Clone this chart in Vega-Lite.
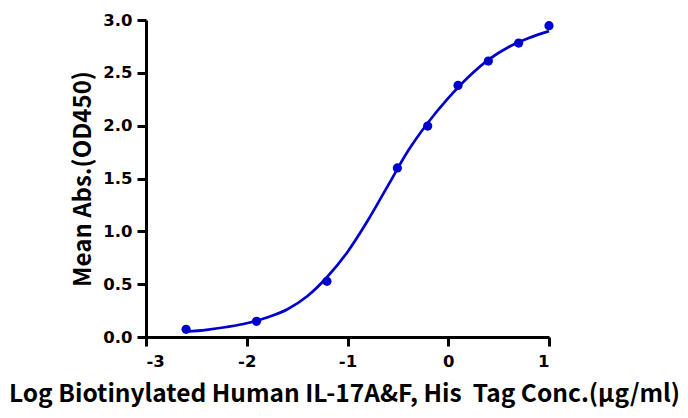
{
  "$schema": "https://vega.github.io/schema/vega-lite/v6.json",
  "width": 403,
  "height": 317,
  "autosize": "none",
  "padding": {"left": 146, "top": 20, "right": 139, "bottom": 81},
  "background": "white",
  "config": {
    "view": {"stroke": null},
    "font": "Noto Sans CJK SC",
    "axis": {
      "grid": false,
      "domainColor": "black",
      "domainWidth": 3,
      "tickColor": "black",
      "tickWidth": 3,
      "tickSize": 9,
      "labelFont": "DejaVu Sans",
      "labelFontWeight": "bold",
      "labelFontSize": 16.5,
      "labelColor": "black",
      "titleFont": "Noto Sans CJK SC",
      "titleFontWeight": "bold",
      "titleColor": "black"
    }
  },
  "datasets": {
    "points": [
      {"logc": -2.602, "od": 0.073},
      {"logc": -1.903, "od": 0.148},
      {"logc": -1.204, "od": 0.527},
      {"logc": -0.505, "od": 1.6},
      {"logc": -0.204, "od": 1.996},
      {"logc": 0.097, "od": 2.381},
      {"logc": 0.398, "od": 2.611},
      {"logc": 0.699, "od": 2.782},
      {"logc": 1.0, "od": 2.946}
    ],
    "curve": [
      {"logc": -2.602, "od": 0.05},
      {"logc": -2.4, "od": 0.068},
      {"logc": -2.2, "od": 0.095},
      {"logc": -2.0, "od": 0.13},
      {"logc": -1.8, "od": 0.185},
      {"logc": -1.6, "od": 0.26},
      {"logc": -1.4, "od": 0.385},
      {"logc": -1.2, "od": 0.57},
      {"logc": -1.0, "od": 0.805},
      {"logc": -0.8, "od": 1.1},
      {"logc": -0.6, "od": 1.43},
      {"logc": -0.4, "od": 1.76},
      {"logc": -0.2, "od": 2.03},
      {"logc": 0.0, "od": 2.26},
      {"logc": 0.2, "od": 2.46},
      {"logc": 0.4, "od": 2.625},
      {"logc": 0.6, "od": 2.745},
      {"logc": 0.8, "od": 2.83},
      {"logc": 1.0, "od": 2.895}
    ]
  },
  "encoding": {
    "x": {
      "field": "logc",
      "type": "quantitative",
      "scale": {"domain": [-3, 1], "nice": false, "zero": false},
      "axis": {
        "values": [-3, -2, -1, 0, 1],
        "labelExpr": "'' + datum.value",
        "title": "Log Biotinylated Human IL-17A&F, His\u00a0 Tag Conc.(µg/ml)",
        "titleFontSize": 24.5,
        "titlePadding": 13,
        "titleX": 198,
        "labelPadding": 7
      }
    },
    "y": {
      "field": "od",
      "type": "quantitative",
      "scale": {"domain": [0, 3], "nice": false},
      "axis": {
        "values": [0, 0.5, 1, 1.5, 2, 2.5, 3],
        "format": ".1f",
        "title": "Mean Abs.(OD450)",
        "titleFontSize": 24,
        "titlePadding": 7,
        "labelPadding": 5
      }
    }
  },
  "layer": [
    {
      "data": {"name": "curve"},
      "mark": {"type": "line", "color": "#0000CC", "strokeWidth": 2.7, "interpolate": "monotone", "clip": false}
    },
    {
      "data": {"name": "points"},
      "mark": {"type": "circle", "color": "#0000CC", "opacity": 1, "size": 85, "clip": false}
    }
  ]
}
